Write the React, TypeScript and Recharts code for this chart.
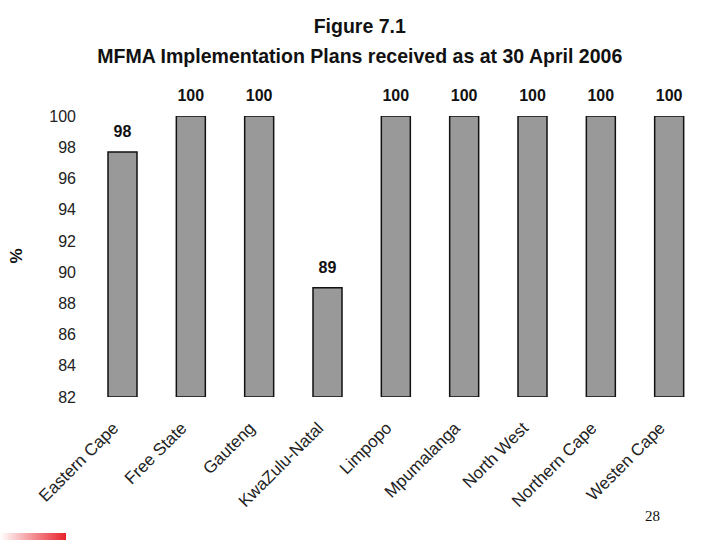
import React from "react"
import { BarChart, Bar, XAxis, YAxis, LabelList } from "recharts"

const provinces = [
  "Eastern Cape",
  "Free State",
  "Gauteng",
  "KwaZulu-Natal",
  "Limpopo",
  "Mpumalanga",
  "North West",
  "Northern Cape",
  "Westen Cape",
]
const received = [97.7, 100, 100, 89, 100, 100, 100, 100, 100]
const yTicks = [82, 84, 86, 88, 90, 92, 94, 96, 98, 100]

const data = provinces.map((name, i) => ({ name, value: received[i] }))

const font = "'Liberation Sans', Arial, sans-serif"

function ProvinceTick({ x, y, payload }: { x?: number; y?: number; payload?: { value: string } }) {
  return (
    <g transform={`translate(${(x ?? 0) - 7},${(y ?? 0) + 20}) rotate(-45)`}>
      <text textAnchor="end" dy="0.35em" fontSize={17} fill="#222" fontFamily={font}>
        {payload?.value}
      </text>
    </g>
  )
}

const titleStyle: React.CSSProperties = {
  position: "absolute",
  width: 720,
  textAlign: "center",
  fontFamily: font,
  fontWeight: 700,
  fontSize: 21,
  color: "#111",
  transform: "scaleX(0.93)",
  transformOrigin: "357px 0",
}

export default function App() {
  return (
    <div style={{ position: "absolute", left: 0, top: 0, width: 720, height: 540, background: "#fff", overflow: "hidden" }}>
      <div style={{ ...titleStyle, top: 14 }}>Figure 7.1</div>
      <div style={{ ...titleStyle, top: 44 }}>MFMA Implementation Plans received as at 30 April 2006</div>
      <div style={{ position: "absolute", left: 9, top: 246, transform: "rotate(-90deg)", fontFamily: font, fontWeight: 700, fontSize: 17, color: "#111" }}>
        %
      </div>
      <div style={{ position: "absolute", left: 0, top: 0 }}>
        <BarChart width={720} height={540} data={data} margin={{ top: 116, right: 17, left: 0, bottom: 23 }}>
          <XAxis dataKey="name" axisLine={false} tickLine={false} interval={0} height={120} tick={<ProvinceTick />} />
          <YAxis
            domain={[82, 100]}
            ticks={yTicks}
            axisLine={false}
            tickLine={false}
            width={88}
            tickMargin={6}
            tick={{ fontSize: 16, fill: "#222", fontFamily: font }}
            allowDataOverflow
          />
          <Bar dataKey="value" fill="#999999" stroke="#111" strokeWidth={1.5} barSize={29} isAnimationActive={false}>
            <LabelList
              dataKey="value"
              position="top"
              offset={15}
              formatter={(v: number) => Math.round(v)}
              style={{ fontSize: 16, fontWeight: 700, fill: "#111", fontFamily: font }}
            />
          </Bar>
        </BarChart>
      </div>
      <div style={{ position: "absolute", left: 645, top: 508, fontFamily: "'Liberation Serif', serif", fontSize: 15, color: "#111" }}>28</div>
      <div style={{ position: "absolute", left: 0, top: 533, width: 66, height: 7, background: "linear-gradient(to right, #fff, #e8232b)" }} />
    </div>
  )
}
